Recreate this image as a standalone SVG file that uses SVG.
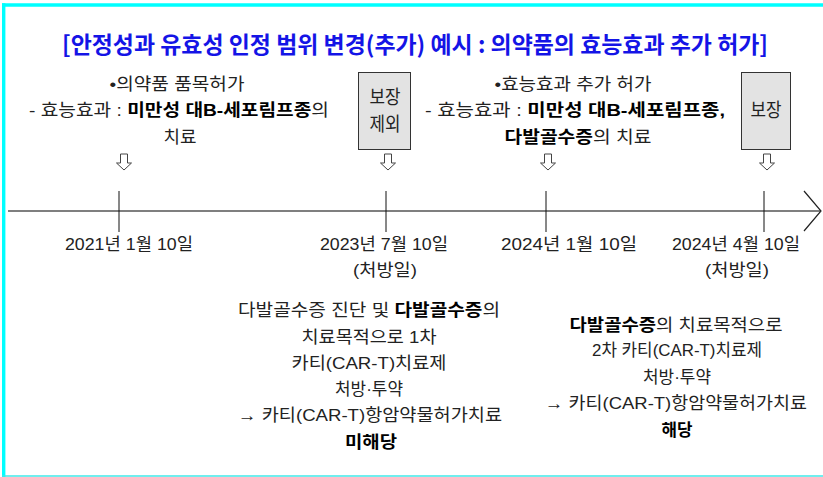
<svg xmlns="http://www.w3.org/2000/svg" width="823" height="477" viewBox="0 0 823 477">
<style>
.t{font-family:"Liberation Sans","Noto Sans CJK KR",sans-serif;font-size:17px;fill:#222;text-anchor:middle}
.bx{font-size:19px}
.b{font-weight:bold;fill:#000}
.title{font-family:"Noto Sans CJK KR",sans-serif;font-size:23px;font-weight:bold;fill:#1414e6;text-anchor:middle}
.box{fill:#e3e3e3;stroke:#333;stroke-width:1}
.tick{stroke:#111;stroke-width:1}
.da{fill:#fff;stroke:#444;stroke-width:1}
</style>
<defs>
<path id="dn" class="da" d="M-3.5,154 L3.5,154 L3.5,163 L7.5,163 L0,170 L-7.5,163 L-3.5,163 Z"/>
</defs>
<rect width="823" height="477" fill="#fff"/>
<g id="frame" fill="none" stroke="#00ffff">
<line x1="2" y1="5" x2="823" y2="5" stroke-width="3.4"/>
<line x1="3.7" y1="3.3" x2="3.7" y2="477" stroke-width="3.4"/>
<line x1="2" y1="476" x2="823" y2="476" stroke-width="1.6" stroke="#40e8e8"/>
</g>
<g id="title"><text class="title" x="415" y="53" textLength="706" lengthAdjust="spacingAndGlyphs">[안정성과 유효성 인정 범위 변경(추가) 예시 : 의약품의 효능효과 추가 허가]</text></g>
<g id="note1">
<text class="t" x="177" y="90" textLength="135" lengthAdjust="spacingAndGlyphs">•의약품 품목허가</text>
<text class="t" x="179" y="116" textLength="300" lengthAdjust="spacingAndGlyphs">- 효능효과 : <tspan class="b">미만성 대B-세포림프종</tspan>의</text>
<text class="t" x="180" y="143" textLength="33" lengthAdjust="spacingAndGlyphs">치료</text>
</g>
<g id="box1">
<rect class="box" x="358.5" y="72.5" width="52" height="77"/>
<text class="t bx" x="385" y="104" textLength="31" lengthAdjust="spacingAndGlyphs">보장</text>
<text class="t bx" x="385" y="131" textLength="31" lengthAdjust="spacingAndGlyphs">제외</text>
</g>
<g id="note2">
<text class="t" x="573" y="90" textLength="157" lengthAdjust="spacingAndGlyphs">•효능효과 추가 허가</text>
<text class="t" x="575" y="116" textLength="300" lengthAdjust="spacingAndGlyphs">- 효능효과 : <tspan class="b">미만성 대B-세포림프종,</tspan></text>
<text class="t" x="578" y="143" textLength="147" lengthAdjust="spacingAndGlyphs"><tspan class="b">다발골수증</tspan>의 치료</text>
</g>
<g id="box2">
<rect class="box" x="741.5" y="72.5" width="49" height="77"/>
<text class="t bx" x="766" y="117" textLength="31" lengthAdjust="spacingAndGlyphs">보장</text>
</g>
<g id="connectors">
<use href="#dn" x="124"/>
<use href="#dn" x="388"/>
<use href="#dn" x="548"/>
<use href="#dn" x="767"/>
<line x1="8" y1="211" x2="820" y2="211" stroke="#555" stroke-width="1.5"/>
<polyline points="804,191 821,211 804,231" fill="none" stroke="#222" stroke-width="1.2"/>
<line class="tick" x1="119" y1="191" x2="119" y2="232"/>
<line class="tick" x1="386" y1="191" x2="386" y2="232"/>
<line class="tick" x1="546" y1="191" x2="546" y2="232"/>
<line class="tick" x1="764" y1="191" x2="764" y2="232"/>
</g>
<g id="dates">
<text class="t" x="129" y="250" textLength="128" lengthAdjust="spacingAndGlyphs">2021년 1월 10일</text>
<text class="t" x="384" y="250" textLength="128" lengthAdjust="spacingAndGlyphs">2023년 7월 10일</text>
<text class="t" x="385" y="276" textLength="64" lengthAdjust="spacingAndGlyphs">(처방일)</text>
<text class="t" x="569" y="250" textLength="136" lengthAdjust="spacingAndGlyphs">2024년  1월  10일</text>
<text class="t" x="736" y="250" textLength="128" lengthAdjust="spacingAndGlyphs">2024년 4월 10일</text>
<text class="t" x="737" y="276" textLength="64" lengthAdjust="spacingAndGlyphs">(처방일)</text>
</g>
<g id="result1">
<text class="t" x="369" y="316" textLength="262" lengthAdjust="spacingAndGlyphs">다발골수증 진단 및 <tspan class="b">다발골수증</tspan>의</text>
<text class="t" x="369" y="343" textLength="135" lengthAdjust="spacingAndGlyphs">치료목적으로 1차</text>
<text class="t" x="369" y="369" textLength="155" lengthAdjust="spacingAndGlyphs">카티(CAR-T)치료제</text>
<text class="t" x="369" y="395" textLength="68" lengthAdjust="spacingAndGlyphs">처방·투약</text>
<text class="t" x="370" y="421" textLength="264" lengthAdjust="spacingAndGlyphs">→ 카티(CAR-T)항암약물허가치료</text>
<text class="t b" x="371" y="448" textLength="52" lengthAdjust="spacingAndGlyphs">미해당</text>
</g>
<g id="result2">
<text class="t" x="676" y="331" textLength="213" lengthAdjust="spacingAndGlyphs"><tspan class="b">다발골수증</tspan>의 치료목적으로</text>
<text class="t" x="677" y="356" textLength="170" lengthAdjust="spacingAndGlyphs">2차 카티(CAR-T)치료제</text>
<text class="t" x="677" y="383" textLength="68" lengthAdjust="spacingAndGlyphs">처방·투약</text>
<text class="t" x="676" y="409" textLength="262" lengthAdjust="spacingAndGlyphs">→ 카티(CAR-T)항암약물허가치료</text>
<text class="t b" x="677" y="436" textLength="31" lengthAdjust="spacingAndGlyphs">해당</text>
</g>
</svg>
